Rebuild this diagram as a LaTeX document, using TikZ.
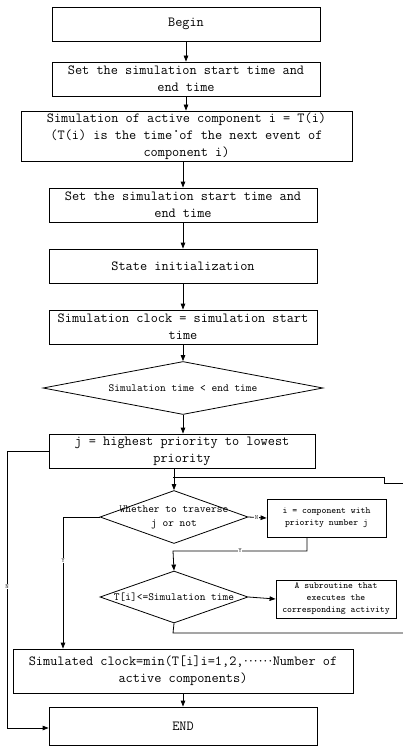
\documentclass[tikz,border=0pt]{standalone}
\usepackage{fontspec}
\usetikzlibrary{arrows.meta,shapes.geometric}
\newcommand\dotrun{\makebox[0.35em]{·}\makebox[0.35em]{·}\makebox[0.35em]{·}\makebox[0.35em]{·}\makebox[0.35em]{·}\makebox[0.35em]{·}}
\begin{document}
\begin{tikzpicture}[x=1pt,y=-1pt,
  line/.style={draw=black,line width=0.8pt},
  arr/.style={line,-{Triangle[length=6pt,width=4.5pt]}},
  procbox/.style={draw=black,line width=0.8pt,rectangle,inner sep=0pt,align=center,
    font=\ttfamily\fontsize{13.9}{17}\selectfont,text=black},
  smallbox/.style={procbox,font=\ttfamily\fontsize{9.3}{12}\selectfont},
  decision/.style={draw=black,line width=0.8pt,diamond,inner sep=0pt},
  dtext/.style={align=center,inner sep=0pt,font=\ttfamily\fontsize{10.9}{14}\selectfont,text=black},
  tag/.style={fill=white,inner sep=0.6pt,font=\ttfamily\fontsize{6.5}{7}\selectfont,text=black!80}]
\useasboundingbox (0,0) rectangle (403,746);

% main column of process boxes
\node[procbox,minimum width=268pt,minimum height=34pt] (begin) at (186,24) {Begin};
\node[procbox,minimum width=268pt,minimum height=34pt] (settime) at (186,79)
  {Set the simulation start time and\\end time};
\node[procbox,minimum width=331pt,minimum height=50pt] (active) at (186.5,136)
  {Simulation of active component i = T(i)\\(T(i) is the time of the next event of\\component i)};
\fill (176,131) circle (1pt);
\node[procbox,minimum width=268pt,minimum height=34pt] (settime2) at (183,205)
  {Set the simulation start time and\\end time};
\node[procbox,minimum width=268pt,minimum height=34pt] (init) at (183,266)
  {State initialization};
\node[procbox,minimum width=268pt,minimum height=34pt] (clock) at (183,327)
  {Simulation clock = simulation start\\time};

% outer loop test
\node[decision,minimum width=280pt,minimum height=53pt] (endtest) at (183,388) {};
\node[dtext] at (endtest.center) {Simulation time < end time};

\node[procbox,minimum width=266pt,minimum height=34pt] (prio) at (182,451)
  {j = highest priority to lowest\\priority};

% inner loop over priorities
\node[decision,minimum width=148pt,minimum height=53pt] (trav) at (174,517) {};
\node[dtext] at (trav.center) {Whether to traverse\\j or not};
\node[smallbox,minimum width=119pt,minimum height=38pt] (comp) at (326.5,518)
  {i = component with\\priority number j};
\node[decision,minimum width=148pt,minimum height=52pt] (due) at (174,597) {};
\node[dtext] at (due.center) {T[i]<=Simulation time};
\node[smallbox,minimum width=120pt,minimum height=38pt] (sub) at (336,599)
  {A subroutine that\\executes the\\corresponding activity};

\node[procbox,minimum width=340pt,minimum height=44pt] (minclock) at (183,671)
  {Simulated clock=min(T[i]i=1,2,\dotrun Number of\\active components)};
\node[procbox,minimum width=268pt,minimum height=38pt] (finish) at (183,726) {END};

% helper points for the routed connectors
\coordinate (join) at (173,477);
\coordinate (backA) at (403,483);
\coordinate (backB) at (403,633);

% straight flow
\draw[arr] (begin.south) -- (settime.north);
\draw[arr] (settime.south) -- (settime.south |- active.north);
\draw[arr] (active.south -| settime2.north) -- (settime2.north);
\draw[arr] (settime2.south) -- (init.north);
\draw[arr] (init.south) -- (clock.north);
\draw[arr] (clock.south) -- (endtest.north);
\draw[arr] (endtest.south) -- (endtest.south |- prio.north);
\draw[arr] (prio.south -| trav.north) -- (trav.north);
\draw[line] (join) -- (384,477) -- (384,483) -- (backA);

% branches of the traversal test
\draw[arr] (trav.east) -- node[tag,pos=0.45] {N} (comp.west);
\draw[arr] (comp.south -| 307,0) -- (307,551) -- node[tag] {Y} (173,551) -- (due.north);
\draw[arr] (due.east) -- (sub.west);
\draw[line] (due.south) -- (173,633) -- (backB);
\draw[arr] (trav.west) -- (63,517) -- node[tag,pos=0.33] {Y} (63,0 |- minclock.north);
\draw[arr] (prio.west) -- (7,451) -- node[tag,pos=0.49] {N} (7,728) -- (finish.west |- 0,728);
\draw[arr] (minclock.south) -- (finish.north);
\end{tikzpicture}
\end{document}
